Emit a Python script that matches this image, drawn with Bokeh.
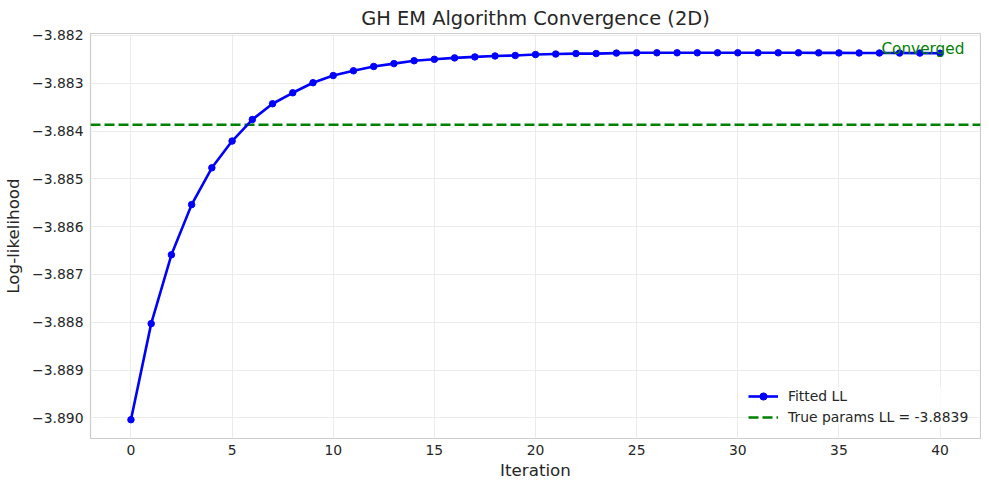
from bokeh.plotting import figure
from bokeh.models import Range1d, FixedTicker, CustomJSTickFormatter, Label, Legend, LegendItem
from bokeh.embed import file_html
from bokeh.resources import INLINE

# ---- data ----
iterations = list(range(41))
fitted_ll = [
    -3.89004, -3.88803, -3.88659, -3.88554, -3.88477, -3.88421, -3.88376,
    -3.88343, -3.88320, -3.88299, -3.88284, -3.88274, -3.88265, -3.88259,
    -3.88253, -3.88250, -3.88247, -3.88245, -3.88243, -3.88242, -3.88240,
    -3.88239, -3.88238, -3.88238, -3.88237, -3.882364, -3.882364, -3.882364,
    -3.882364, -3.882364, -3.882364, -3.882364, -3.882364, -3.882364,
    -3.882365, -3.882366, -3.882367, -3.882368, -3.882369, -3.882370, -3.882372,
]
true_ll = -3.88387
x_ticks = [0, 5, 10, 15, 20, 25, 30, 35, 40]
y_ticks = [-3.890, -3.889, -3.888, -3.887, -3.886, -3.885, -3.884, -3.883, -3.882]
x_lo, x_hi = -2, 42
y_lo, y_hi = -3.890433, -3.88196

FONT = "DejaVu Sans"
TXT = "#262626"

p = figure(frame_width=890, frame_height=405, output_backend="svg", toolbar_location=None,
           x_range=Range1d(x_lo, x_hi), y_range=Range1d(y_lo, y_hi),
           title="GH EM Algorithm Convergence (2D)",
           min_border_left=82, min_border_right=1, min_border_top=25, min_border_bottom=42)

p.background_fill_color = "white"
p.border_fill_color = "white"
p.outline_line_color = "#cccccc"
p.outline_line_width = 1.2

p.title.text_font = FONT
p.title.text_font_size = "19.4px"
p.title.text_font_style = "normal"
p.title.text_color = TXT
p.title.align = "center"
p.title.standoff = 8

for ax in (p.xaxis[0], p.yaxis[0]):
    ax.axis_line_color = None
    ax.major_tick_line_color = None
    ax.minor_tick_line_color = None
    ax.major_tick_out = 0
    ax.major_tick_in = 0
    ax.minor_tick_out = 0
    ax.minor_tick_in = 0
    ax.major_label_text_font = FONT
    ax.major_label_text_font_size = "13.9px"
    ax.major_label_text_color = TXT
    ax.axis_label_text_font = FONT
    ax.axis_label_text_font_size = "16.7px"
    ax.axis_label_text_font_style = "normal"
    ax.axis_label_text_color = TXT

p.xaxis.ticker = FixedTicker(ticks=x_ticks)
p.yaxis.ticker = FixedTicker(ticks=y_ticks)
p.yaxis.formatter = CustomJSTickFormatter(code="return tick.toFixed(3).replace('-', '\\u2212');")
p.xaxis.axis_label = "Iteration"
p.yaxis.axis_label = "Log-likelihood"
p.xaxis.major_label_standoff = 6
p.yaxis.major_label_standoff = 7
p.xaxis.axis_label_standoff = 2
p.yaxis.axis_label_standoff = 6

p.xgrid.grid_line_color = "#ebebeb"
p.ygrid.grid_line_color = "#ebebeb"
p.xgrid.grid_line_width = 1
p.ygrid.grid_line_width = 1

true_r = p.line(x=[x_lo, x_hi], y=[true_ll, true_ll], line_color="#008000",
                line_width=2.6, line_dash="10 4")
fit_line = p.line(x=iterations, y=fitted_ll, line_color="#0000ff", line_width=2.6)
fit_pts = p.scatter(x=iterations, y=fitted_ll, size=6.5, fill_color="#0000ff",
                    line_color="#0000ff", marker="circle")

conv = Label(x=37.1, y=fitted_ll[-1], y_offset=4, text="Converged", text_color="#008000",
             text_font=FONT, text_font_size="15.3px", text_baseline="alphabetic",
             text_align="left")
p.add_layout(conv)

legend = Legend(items=[
    LegendItem(label="Fitted LL", renderers=[fit_line, fit_pts]),
    LegendItem(label="True params LL = -3.8839", renderers=[true_r]),
], location=(658, 12))
legend.label_text_font = FONT
legend.label_text_font_size = "13.9px"
legend.label_text_color = TXT
legend.glyph_width = 30
legend.glyph_height = 18
legend.spacing = 3
legend.label_standoff = 10
legend.padding = 10
legend.margin = 0
legend.border_line_color = None
legend.background_fill_color = "white"
legend.background_fill_alpha = 0.8
p.add_layout(legend)

open("out.html", "w").write(file_html(p, INLINE))
